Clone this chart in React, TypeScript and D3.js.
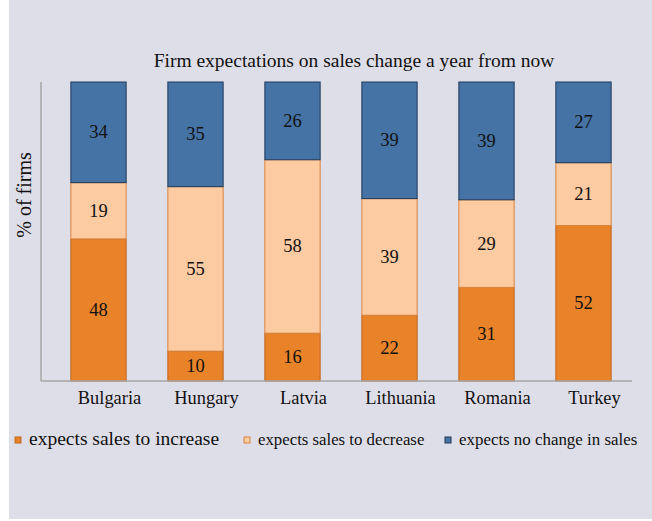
import React from "react";
import * as d3 from "d3";

const countries = ["Bulgaria", "Hungary", "Latvia", "Lithuania", "Romania", "Turkey"];
const increase = [48, 10, 16, 22, 31, 52];
const decrease = [19, 55, 58, 39, 29, 21];
const noChange = [34, 35, 26, 39, 39, 27];
const seriesNames = ["expects sales to increase", "expects sales to decrease", "expects no change in sales"];

const W = 652, H = 521;
const FONT = "'Liberation Serif', 'DejaVu Serif', serif";
const fills = ["#E8832A", "#FDCBA1", "#4573A5"];
const strokes = ["#C0651A", "#D9843E", "#1F3A5C"];

export default function App() {
  const x = d3.scaleBand<string>().domain(countries).range([50, 632]).paddingInner(0.43).paddingOuter(0.215);
  const y = d3.scaleLinear().domain([0, 1]).range([381, 82]);
  const rows = countries.map((c, i) => ({ country: c, inc: increase[i], dec: decrease[i], nc: noChange[i] }));
  const stack = d3.stack<any>().keys(["inc", "dec", "nc"]).offset(d3.stackOffsetExpand);
  const layers = stack(rows);
  const raw = [increase, decrease, noChange];

  const legendX = [18, 247, 448];
  const legendSize = [19.5, 16.8, 16.9];

  return (
    <svg width={W} height={H} style={{ position: "absolute", left: 0, top: 0, background: "#fff" }}>
      <rect x={9} y={0} width={W - 9} height={519} fill="#DEDEE8" />
      <text x={354} y={67} textAnchor="middle" fontFamily={FONT} fontSize={19.5} fill="#111">
        Firm expectations on sales change a year from now
      </text>
      <text transform="translate(31,195) rotate(-90)" textAnchor="middle" fontFamily={FONT} fontSize={20} fill="#111">
        % of firms
      </text>
      {layers.map((layer, li) =>
        layer.map((d, i) => {
          const x0 = x(countries[i])!;
          const y0 = y(d[1]);
          const y1 = y(d[0]);
          return (
            <g key={li + "-" + i}>
              <rect x={x0} y={y0} width={x.bandwidth()} height={y1 - y0} fill={fills[li]} stroke={strokes[li]} strokeWidth={1} />
              <text x={x0 + x.bandwidth() / 2} y={(y0 + y1) / 2 + 6} textAnchor="middle" fontFamily={FONT} fontSize={18.5} fill="#111">
                {raw[li][i]}
              </text>
            </g>
          );
        })
      )}
      <line x1={41} x2={41} y1={82} y2={381} stroke="#A6A6A6" strokeWidth={1.5} />
      <line x1={41} x2={632} y1={381} y2={381} stroke="#A6A6A6" strokeWidth={1.5} />
      {countries.map((c) => (
        <text key={c} x={x(c)! + x.bandwidth() / 2 + 11} y={404} textAnchor="middle" fontFamily={FONT} fontSize={18.4} fill="#111">
          {c}
        </text>
      ))}
      {seriesNames.map((s, i) => (
        <g key={s}>
          <rect x={legendX[i] - 3} y={437} width={6} height={6} fill={fills[i]} stroke={strokes[i]} strokeWidth={1} />
          <text x={legendX[i] + 11} y={445} fontFamily={FONT} fontSize={legendSize[i]} fill="#111">
            {s}
          </text>
        </g>
      ))}
    </svg>
  );
}
